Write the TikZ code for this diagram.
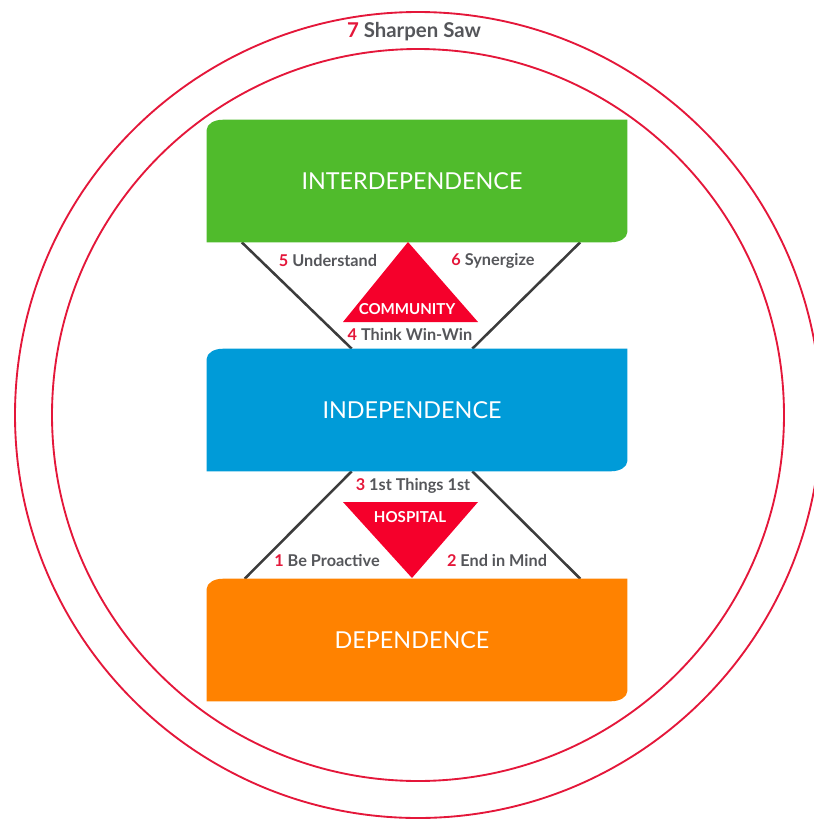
\documentclass[tikz,border=0pt]{standalone}
\usepackage{fontspec}
\setmainfont{Lato}
\usetikzlibrary{backgrounds}

\definecolor{sawred}{HTML}{E4173A}
\definecolor{trired}{HTML}{F5002B}
\definecolor{intergreen}{HTML}{50BB2C}
\definecolor{indepblue}{HTML}{009BD8}
\definecolor{deporange}{HTML}{FF8200}
\definecolor{labelgray}{HTML}{55565A}
\definecolor{linegray}{HTML}{3C3C3C}

\newcommand{\stepno}[1]{\textcolor{sawred}{#1}}
% box with rounded top left and bottom right corners (a bit wider on the right)
\newcommand{\stagebox}[2]{%
  \fill[#2] ([yshift=-7.5pt]#1.north west) arc[start angle=180, end angle=90, x radius=12pt, y radius=7.5pt]
    -- ([xshift=7.5pt]#1.north east) -- ([xshift=7.5pt, yshift=7.5pt]#1.south east)
    arc[start angle=0, end angle=-90, x radius=12pt, y radius=7.5pt]
    -- (#1.south west) -- cycle;}

\tikzset{
  stage/.style={minimum width=307.5pt, minimum height=91.5pt, inner sep=0pt, text=white,
    font=\fontsize{17.5}{20}\selectfont},
  habit/.style={text=labelgray, inner sep=0pt, font=\bfseries\fontsize{12.2}{14}\selectfont},
  tritext/.style={text=white, inner sep=0pt, font=\bfseries\fontsize{11.3}{13}\selectfont},
  ring/.style={draw=sawred, line width=1.4pt},
  leg/.style={draw=linegray, line width=1.9pt}
}

\begin{document}
\begin{tikzpicture}[x=0.75pt, y=0.75pt]
    \useasboundingbox (0,0) rectangle (814,-819);

    % the two rings
    \coordinate (hub) at (418,-415);
    \draw[ring] (hub) circle[radius=302.25pt];
    \draw[ring] (hub) circle[radius=274.5pt];
    \node[habit, font=\bfseries\fontsize{15.3}{18}\selectfont] (saw) at (414,-32) {\stepno{7} Sharpen Saw};

    % stages
    \node[stage] (inter) at (412,-181) {INTERDEPENDENCE};
    \node[stage] (indep) at (412,-410) {INDEPENDENCE};
    \node[stage] (dep) at (412,-640) {DEPENDENCE};

    \begin{scope}[on background layer]
        % legs between the stages
        \draw[leg] ([xshift=26.25pt]inter.south west) -- ([xshift=108.75pt]indep.north west);
        \draw[leg] ([xshift=-27.75pt]inter.south east) -- ([xshift=-108.75pt]indep.north east);
        \draw[leg] ([xshift=108.75pt]indep.south west) -- ([xshift=28.5pt]dep.north west);
        \draw[leg] ([xshift=-108.75pt]indep.south east) -- ([xshift=-27.75pt]dep.north east);

        \stagebox{inter}{intergreen}
        \stagebox{indep}{indepblue}
        \stagebox{dep}{deporange}
    \end{scope}

    % triangles
    \fill[trired] (408,-242) -- (478,-322) -- (343,-322) -- cycle;
    \fill[trired] (343,-502) -- (478,-502) -- (412,-578) -- cycle;
    \node[tritext] (comm) at (407,-309) {COMMUNITY};
    \node[tritext] (hosp) at (410,-517) {HOSPITAL};

    % habits
    \node[habit] (h5) at (328,-261) {\stepno{5} Understand};
    \node[habit] (h6) at (493,-261) {\stepno{6} Synergize};
    \node[habit] (h4) at (410,-334) {\stepno{4} Think Win-Win};
    \node[habit] (h3) at (413,-486) {\stepno{3} 1st Things 1st};
    \node[habit] (h1) at (327,-561) {\stepno{1} Be Proactive};
    \node[habit] (h2) at (497,-561) {\stepno{2} End in Mind};
\end{tikzpicture}
\end{document}
